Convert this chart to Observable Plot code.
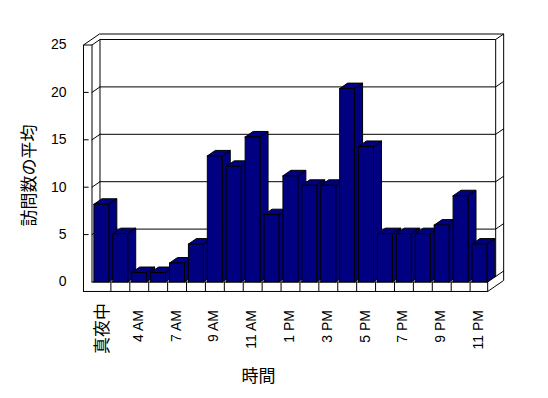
<!DOCTYPE html>
<html><head><meta charset="utf-8">
<script src="https://cdn.jsdelivr.net/npm/d3@7"></script>
<script src="https://cdn.jsdelivr.net/npm/@observablehq/plot@0.6"></script>
<style>html,body{margin:0;padding:0;background:#fff;}</style>
</head><body><div id="chart"></div>
<script>
const hours = ["真夜中","1 AM","4 AM","5 AM","7 AM","8 AM","9 AM","10 AM","11 AM","正午","1 PM","2 PM","3 PM","4 PM","5 PM","6 PM","7 PM","8 PM","9 PM","10 PM","11 PM"];
const visits = [8.2,5.1,1.0,1.0,2.0,4.0,13.3,12.2,15.3,7.1,11.2,10.2,10.2,20.4,14.3,5.1,5.1,5.1,6.0,9.1,4.0];
const yTicks = [0,5,10,15,20,25];
const yTitle = "訪問数の平均";
const xTitle = "時間";

// oblique 3D geometry (in data units)
const A = 0.423, B = 0.58;       // depth offset
const L = -0.45, R = hours.length - 0.07, BOT = -1, TOP = 25;
const W0 = 0.1, W1 = 0.89;       // bar extent within its band

const frameFill = [], frameLines = [];
let id = 0;
function poly(arr, pts){ const k = id++; pts.forEach(([x,y]) => arr.push({id:k, x, y})); }
poly(frameFill, [[L,BOT],[R,BOT],[R+2*A,BOT+2*B],[R+2*A,TOP+2*B],[L+2*A,TOP+2*B],[L,TOP],[L,BOT]]);
poly(frameFill, [[A,B],[A,TOP+B],[R+A,TOP+B],[R+A,B],[A,B]]);
poly(frameLines, [[0,0],[0,TOP]]);
poly(frameLines, [[L,TOP],[0,TOP],[A,TOP+B]]);
poly(frameLines, [[R+A,TOP+B],[R+2*A,TOP+2*B]]);
poly(frameLines, [[0,0],[R,0],[R+A,B]]);
poly(frameLines, [[R,BOT],[R,0]]);
for (let i = 1; i < hours.length; i++) poly(frameLines, [[i,BOT],[i,0]]);
for (const v of yTicks.slice(1, -1)) {
  poly(frameLines, [[A,v+B],[R+A,v+B],[R+2*A,v+2*B]]);
  poly(frameLines, [[0,v],[A,v+B]]);
  poly(frameLines, [[L,v],[L+0.25,v]]);
}
poly(frameLines, [[R+A,B],[R+2*A,2*B]]);

const bars = [];
visits.forEach((v, i) => {
  const x1 = i + W0, x2 = i + W1;
  poly(bars, [[x2,0],[x2+A,B],[x2+A,v+B],[x2,v],[x2,0]]);
  poly(bars, [[x1,v],[x2,v],[x2+A,v+B],[x1+A,v+B],[x1,v]]);
  poly(bars, [[x1,0],[x2,0],[x2,v],[x1,v],[x1,0]]);
});

const shown = hours.map((h, i) => ({h, i})).filter(d => d.i % 2 === 0);
const latin = "Arial, 'Liberation Sans', sans-serif";
const cjk = "'Noto Sans CJK JP', sans-serif";

const chart = Plot.plot({
  width: 548, height: 398,
  marginLeft: 91.5, marginRight: 59.5, marginTop: 44.5, marginBottom: 116.5,
  x: {type: "linear", domain: [0, hours.length], axis: null},
  y: {type: "linear", domain: [0, 25], axis: null},
  style: {background: "white", fontFamily: latin, fontSize: "13px", color: "black"},
  marks: [
    Plot.line(frameFill, {x: "x", y: "y", z: "id", fill: "white", stroke: "black", strokeWidth: 1}),
    Plot.line(frameLines, {x: "x", y: "y", z: "id", stroke: "black", strokeWidth: 1}),
    Plot.line(bars, {x: "x", y: "y", z: "id", fill: "#000080", stroke: "black", strokeWidth: 1}),
    Plot.text(yTicks, {x: L, y: d => d, text: d => String(d), textAnchor: "end", dx: -17, fontSize: "14px", fontFamily: latin, fill: "black"}),
    Plot.text(shown.filter(d => /[AP]M/.test(d.h)), {x: d => d.i + 0.5, y: 0, text: "h", rotate: -90, textAnchor: "end", lineAnchor: "middle", dx: -1, dy: 28, fontSize: "14px", fontFamily: latin, fill: "black"}),
    Plot.text(shown.filter(d => !/[AP]M/.test(d.h)), {x: d => d.i + 0.5, y: 0, text: "h", rotate: -90, textAnchor: "end", lineAnchor: "middle", dx: 1, dy: 21, fontSize: "17px", fontFamily: cjk, fill: "black"}),
    Plot.text([yTitle], {frameAnchor: "left", text: d => d, rotate: -90, textAnchor: "middle", dx: -62.5, dy: 12, fontSize: "17px", fontFamily: cjk, fill: "black"}),
    Plot.text([xTitle], {frameAnchor: "bottom", text: d => d, textAnchor: "middle", dx: -32, dy: 94.5, lineAnchor: "middle", fontSize: "17px", fontFamily: cjk, fill: "black"})
  ]
});
document.getElementById("chart").appendChild(chart);
</script>
</body></html>
